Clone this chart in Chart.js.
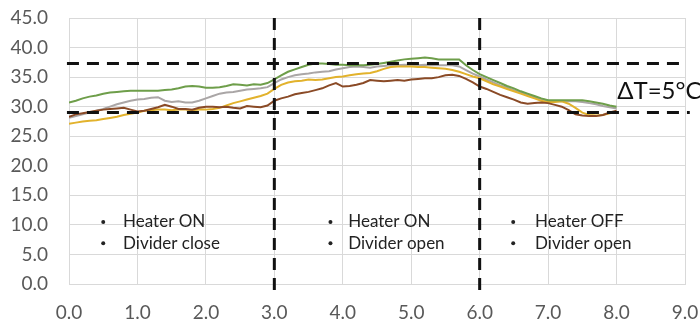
<!DOCTYPE html>
<html>
<head>
<meta charset="utf-8">
<script src="https://cdn.jsdelivr.net/npm/chart.js@4"></script>
<style>
  html, body { margin: 0; padding: 0; background: #fff; }
  #chart { display: block; }
</style>
</head>
<body>
<canvas id="chart" width="700" height="324"></canvas>
<script>
const time = [
  0.0, 0.1, 0.2, 0.3, 0.4, 0.5, 0.6, 0.7, 0.8, 0.9,
  1.0, 1.1, 1.2, 1.3, 1.4, 1.5, 1.6, 1.7, 1.8, 1.9,
  2.0, 2.1, 2.2, 2.3, 2.4, 2.5, 2.6, 2.7, 2.8, 2.9,
  3.0, 3.1, 3.2, 3.3, 3.4, 3.5, 3.6, 3.7, 3.8, 3.9,
  4.0, 4.1, 4.2, 4.3, 4.4, 4.5, 4.6, 4.7, 4.8, 4.9,
  5.0, 5.1, 5.2, 5.3, 5.4, 5.5, 5.6, 5.7, 5.8, 5.9,
  6.0, 6.1, 6.2, 6.3, 6.4, 6.5, 6.6, 6.7, 6.8, 6.9,
  7.0, 7.1, 7.2, 7.3, 7.4, 7.5, 7.6, 7.7, 7.8, 7.9,
  8.0
];

const greenTemp = [
  30.7, 31.0, 31.4, 31.7, 31.9, 32.2, 32.4, 32.5, 32.6, 32.7,
  32.7, 32.7, 32.7, 32.7, 32.8, 32.9, 33.1, 33.4, 33.5, 33.4,
  33.2, 33.2, 33.3, 33.5, 33.8, 33.7, 33.6, 33.8, 33.7, 34.0,
  34.6, 35.3, 35.9, 36.3, 36.7, 37.1, 37.3, 37.3, 37.2, 37.1,
  37.1, 37.0, 37.0, 37.0, 37.1, 37.2, 37.4, 37.6, 37.8, 38.0,
  38.1, 38.2, 38.3, 38.2, 38.0, 38.0, 38.0, 38.0, 37.0, 36.2,
  35.5, 35.0, 34.5, 34.0, 33.5, 33.1, 32.6, 32.2, 31.8, 31.4,
  31.1, 31.1, 31.1, 31.1, 31.1, 31.1, 30.9, 30.7, 30.5, 30.2,
  30.0
];

const greyTemp = [
  28.1, 28.4, 28.7, 29.0, 29.3, 29.6, 30.0, 30.4, 30.7, 31.0,
  31.2, 31.3, 31.5, 31.6, 31.0, 30.8, 30.9, 30.7, 30.7, 31.0,
  31.4, 31.8, 32.2, 32.4, 32.5, 32.7, 32.9, 33.0, 33.1, 33.3,
  34.0, 34.6, 35.0, 35.3, 35.5, 35.6, 35.8, 35.9, 36.0, 36.3,
  36.5, 36.7, 36.8, 36.7, 36.6, 36.8, 36.9, 37.0, 37.0, 37.1,
  37.0, 37.0, 37.1, 37.0, 37.0, 37.0, 37.0, 36.8, 36.2, 35.6,
  35.1, 34.6, 34.1, 33.6, 33.2, 32.8, 32.4, 32.0, 31.6, 31.3,
  31.0, 30.9, 30.9, 30.9, 30.9, 30.8, 30.6, 30.4, 30.1, 29.9,
  29.7
];

const yellowTemp = [
  27.1, 27.3, 27.5, 27.6, 27.7, 27.9, 28.1, 28.3, 28.6, 28.8,
  29.0, 29.3, 29.4, 29.5, 29.5, 29.4, 29.5, 29.5, 29.4, 29.5,
  29.5, 29.6, 29.8, 30.2, 30.6, 30.9, 31.2, 31.5, 31.8, 32.2,
  33.0, 33.7, 34.1, 34.3, 34.4, 34.6, 34.5, 34.6, 34.8, 35.0,
  35.1, 35.3, 35.5, 35.6, 35.7, 36.0, 36.4, 36.7, 36.8, 36.8,
  36.8, 36.7, 36.7, 36.6, 36.5, 36.4, 36.2, 35.9, 35.5, 35.1,
  34.8, 34.3, 33.8, 33.4, 33.0, 32.6, 32.2, 31.8, 31.4, 31.0,
  30.8, 30.8, 30.9, 30.5, 29.8, 29.0, 28.6, 28.5, 28.6, 28.9,
  29.2
];

const brownTemp = [
  28.3, 28.7, 28.9, 29.1, 29.3, 29.5, 29.6, 29.7, 29.8, 29.5,
  29.2, 29.3, 29.6, 29.9, 30.3, 30.0, 29.6, 29.6, 29.5, 29.8,
  30.0, 30.0, 29.9, 30.0, 29.8, 29.7, 30.1, 30.0, 29.9, 30.2,
  31.0, 31.4, 31.7, 32.1, 32.3, 32.5, 32.8, 33.1, 33.6, 34.0,
  33.4, 33.5, 33.7, 34.0, 34.5, 34.4, 34.3, 34.4, 34.5, 34.4,
  34.6, 34.7, 34.8, 34.8, 35.0, 35.3, 35.4, 35.2, 34.7, 34.1,
  33.4, 33.0, 32.5, 32.0, 31.6, 31.2, 30.7, 30.5, 30.6, 30.7,
  30.6, 30.3, 30.0, 29.4, 28.7, 28.5, 28.4, 28.4, 28.6, 29.0,
  29.3
];

// dashed reference lines (x, y pairs in data units)
const upperLine = [[-0.03, 37.3], [8.95, 37.3]];
const lowerLine = [[-0.03, 29.0], [9.07, 29.0]];
const phaseLine1 = [[3, 45], [3, -1.3]];
const phaseLine2 = [[6, 45], [6, -1.3]];

const xTicks = [0, 1, 2, 3, 4, 5, 6, 7, 8, 9];
const yTicks = [0, 5, 10, 15, 20, 25, 30, 35, 40, 45];

// phase notes: bullet x, text x
const notes = [
  { bx: 0.50, tx: 0.79, lines: ["Heater ON", "Divider close"] },
  { bx: 3.82, tx: 4.08, lines: ["Heater ON", "Divider open"] },
  { bx: 6.49, tx: 6.81, lines: ["Heater OFF", "Divider open"] },
];
const noteY = [10.5, 6.9];
const deltaLabel = { x: 8.01, y: 32.65, text: "ΔT=5°C" };

const toPoints = (ys) => time.map((t, i) => ({ x: t, y: ys[i] }));
const toXY = (pairs) => pairs.map((p) => ({ x: p[0], y: p[1] }));

function refSet(pairs) {
  return {
    data: toXY(pairs),
    borderColor: "#111",
    borderWidth: 3,
    borderDash: [12, 8],
    pointRadius: 0,
    clip: false,
    tension: 0,
  };
}

function tempSet(ys, color) {
  return {
    data: toPoints(ys),
    borderColor: color,
    borderWidth: 2,
    pointRadius: 0,
    tension: 0,
  };
}

const notesPlugin = {
  id: "notes",
  afterDatasetsDraw(chart) {
    const ctx = chart.ctx;
    const xs = chart.scales.x;
    const ys = chart.scales.y;
    ctx.save();
    ctx.fillStyle = "#222";
    ctx.font = "17px Lato";
    ctx.textBaseline = "middle";
    notes.forEach((n) => {
      n.lines.forEach((line, i) => {
        const py = ys.getPixelForValue(noteY[i]);
        ctx.beginPath();
        ctx.arc(xs.getPixelForValue(n.bx), py, 2, 0, Math.PI * 2);
        ctx.fill();
        ctx.fillText(line, xs.getPixelForValue(n.tx), py);
      });
    });
    ctx.font = "24px Lato";
    ctx.fillStyle = "#111";
    ctx.fillText(deltaLabel.text, xs.getPixelForValue(deltaLabel.x), ys.getPixelForValue(deltaLabel.y));
    ctx.restore();
  },
};

const ctx = document.getElementById("chart").getContext("2d");
const chart = new Chart(ctx, {
  type: "line",
  data: {
    datasets: [
      refSet(upperLine),
      refSet(lowerLine),
      refSet(phaseLine1),
      refSet(phaseLine2),
      tempSet(greenTemp, "#6e9e4a"),
      tempSet(brownTemp, "#8a4a26"),
      tempSet(yellowTemp, "#e2b22c"),
      tempSet(greyTemp, "#aaa6a6"),
    ],
  },
  options: {
    responsive: false,
    animation: false,
    layout: { padding: { top: 18, right: 15, left: 0, bottom: 0 } },
    plugins: {
      legend: { display: false },
      tooltip: { enabled: false },
    },
    scales: {
      x: {
        type: "linear",
        min: 0,
        max: 9,
        afterBuildTicks: (s) => { s.ticks = xTicks.map((v) => ({ value: v })); },
        afterFit: (s) => {
          s.height = 40;
          s.paddingLeft = 0;
          s.paddingRight = 0;
        },
        ticks: {
          padding: 17,
          color: "#595959",
          font: { family: "Lato", size: 19 },
          callback: (v) => Number(v).toFixed(1),
        },
        grid: { color: "#d9d9d9", drawTicks: false },
        border: { color: "#d9d9d9" },
      },
      y: {
        min: 0,
        max: 45,
        afterBuildTicks: (s) => { s.ticks = yTicks.map((v) => ({ value: v })); },
        afterFit: (s) => {
          s.width = 69;
          s.paddingTop = 0;
          s.paddingBottom = 0;
        },
        ticks: {
          padding: 21,
          color: "#595959",
          font: { family: "Lato", size: 19 },
          callback: (v) => Number(v).toFixed(1),
        },
        grid: { color: "#d9d9d9", drawTicks: false },
        border: { display: false },
      },
    },
  },
  plugins: [notesPlugin],
});
</script>
</body>
</html>
